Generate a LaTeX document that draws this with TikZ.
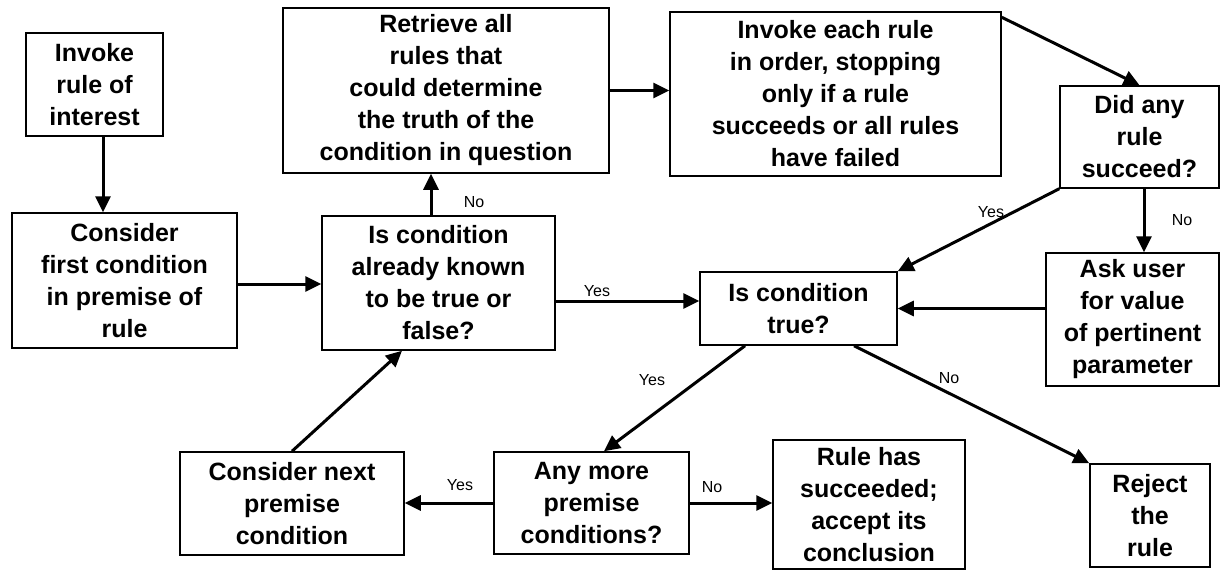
\documentclass[tikz,border=0pt]{standalone}
\usepackage{fontspec}
\setmainfont{Liberation Sans}
\usetikzlibrary{arrows.meta}
\begin{document}
\begin{tikzpicture}[x=1pt,y=-1pt,
  box/.style={draw, line width=1.5pt, align=center, inner sep=0pt,
    font=\bfseries\fontsize{25}{32}\selectfont},
  link/.style={line width=3pt, -{Triangle[length=16pt,width=15pt]}},
  lab/.style={font=\fontsize{16}{19}\selectfont, inner sep=0pt}]
\fill[white] (0,0) rectangle (1221,570);
\useasboundingbox (0,0) rectangle (1221,570);

% process and decision boxes
\node[box, minimum width=137pt, minimum height=103pt] (inv) at (94.5,84.5) {Invoke\\rule of\\interest};
\node[box, minimum width=225pt, minimum height=135pt] (cons1) at (124.5,280.5) {Consider\\first condition\\in premise of\\rule};
\node[box, minimum width=326pt, minimum height=165pt] (retr) at (446,90.5) {Retrieve all\\rules that\\could determine\\the truth of the\\condition in question};
\node[box, minimum width=331pt, minimum height=164pt] (each) at (835.5,94) {Invoke each rule\\in order, stopping\\only if a rule\\succeeds or all rules\\have failed};
\node[box, minimum width=159pt, minimum height=102pt] (did) at (1139.5,137) {Did any\\rule\\succeed?};
\node[box, minimum width=233pt, minimum height=134pt] (known) at (438.5,283) {Is condition\\already known\\to be true or\\false?};
\node[box, minimum width=197pt, minimum height=73pt] (istrue) at (798.5,308.5) {Is condition\\true?};
\node[box, minimum width=173pt, minimum height=133pt] (ask) at (1132.5,319.5) {Ask user\\for value\\of pertinent\\parameter};
\node[box, minimum width=224pt, minimum height=103pt] (next) at (292,503.5) {Consider next\\premise\\condition};
\node[box, minimum width=195pt, minimum height=102pt] (more) at (591.5,503) {Any more\\premise\\conditions?};
\node[box, minimum width=192pt, minimum height=129pt] (ok) at (869,504.5) {Rule has\\succeeded;\\accept its\\conclusion};
\node[box, minimum width=120pt, minimum height=103pt] (rej) at (1150,515.5) {Reject\\the\\rule};

% connectors
\coordinate (p1) at ([xshift=8.5pt]inv.south);
\draw[link] (p1) -- (p1 |- cons1.north);

\coordinate (p2) at ([yshift=-3.5pt]cons1.east);
\draw[link] (p2) -- (p2 -| known.west);

\coordinate (p3) at ([xshift=-7.5pt]known.north);
\draw[link] (p3) -- (p3 |- retr.south);
\node[lab] (lno1) at (474,202) {No};

\draw[link] (retr.east) -- (retr.east -| each.west);

\draw[link] ([yshift=-6pt]each.north east) -- (did.north);

\draw[link] (did.south west) -- (istrue.north east);
\node[lab] (lyes1) at (991,212) {Yes};

\coordinate (p7) at ([xshift=4.5pt]did.south);
\draw[link] (p7) -- (p7 |- ask.north);
\node[lab] (lno2) at (1182,220) {No};

\draw[link] (istrue.east -| ask.west) -- (istrue.east);

\coordinate (p9) at ([yshift=-18pt]known.east);
\draw[link] (p9) -- (p9 -| istrue.west);
\node[lab] (lyes2) at (597,291) {Yes};

\draw[link] ([xshift=-53.5pt]istrue.south) -- ([xshift=12.5pt]more.north);
\node[lab] (lyes3) at (652,380) {Yes};

\draw[link] ([xshift=55.5pt]istrue.south) -- (rej.north west);
\node[lab] (lno3) at (949,378) {No};

\draw[link] (more.west) -- (more.west -| next.east);
\node[lab] (lyes4) at (460,485) {Yes};

\draw[link] (more.east) -- (more.east -| ok.west);
\node[lab] (lno4) at (712,487) {No};

\draw[link] (next.north) -- ([xshift=-36.5pt]known.south);
\end{tikzpicture}
\end{document}
